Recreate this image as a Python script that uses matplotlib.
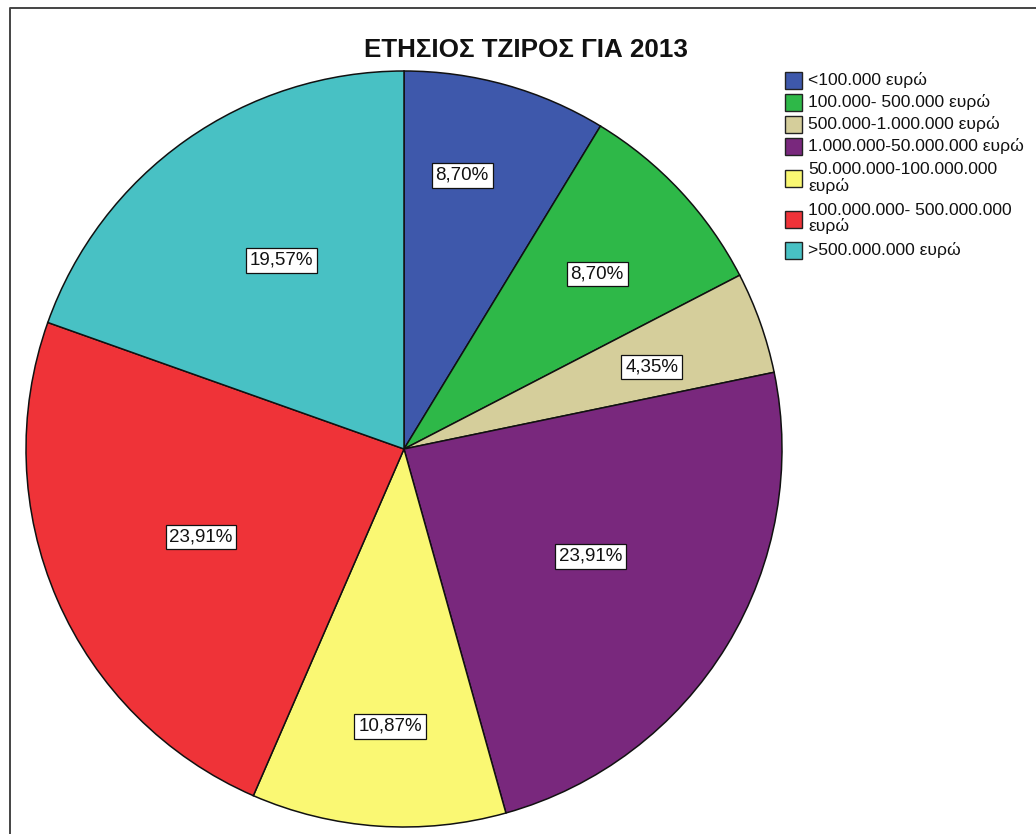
import matplotlib
matplotlib.use("Agg")
import matplotlib.pyplot as plt
from matplotlib.lines import Line2D
from matplotlib.patches import Rectangle
import numpy as np

plt.rcParams['font.family'] = ['Liberation Sans', 'DejaVu Sans']

# Turnover bands and their share of companies (%)
categories = [
    "<100.000 ευρώ",
    "100.000- 500.000 ευρώ",
    "500.000-1.000.000 ευρώ",
    "1.000.000-50.000.000 ευρώ",
    "50.000.000-100.000.000\nευρώ",
    "100.000.000- 500.000.000\nευρώ",
    ">500.000.000 ευρώ",
]
percentages = [8.70, 8.70, 4.35, 23.91, 10.87, 23.91, 19.57]
colors = ["#3E58AB", "#2EB848", "#D5CE9B", "#79287D", "#FAF873", "#EF3338", "#48C1C4"]
title = "ΕΤΗΣΙΟΣ ΤΖΙΡΟΣ ΓΙΑ 2013"

# Where each percentage box sits: polar angle (deg) and radius fraction
label_angles = [78.0, 42.2, 18.3, -29.9, -92.9, 203.4, 123.0]
label_radii = [0.74, 0.69, 0.69, 0.57, 0.735, 0.585, 0.595]

W, H = 1036, 834
fig = plt.figure(figsize=(W / 100, H / 100), dpi=100)
fig.patch.set_facecolor("white")

cx, cy, r = 404, 449, 378
ax = fig.add_axes([(cx - r) / W, (H - cy - r) / H, 2 * r / W, 2 * r / H])

wedges, _ = ax.pie(
    percentages,
    colors=colors,
    startangle=90,
    counterclock=False,
    radius=1.0,
    wedgeprops=dict(edgecolor="#111111", linewidth=1.1),
)
ax.set_xlim(-1, 1)
ax.set_ylim(-1, 1)
ax.set_aspect("equal")
ax.axis("off")

for p, a, rr in zip(percentages, label_angles, label_radii):
    t = np.deg2rad(a)
    ax.text(rr * np.cos(t), rr * np.sin(t), f"{p:.2f}%".replace(".", ","),
            ha="center", va="center", fontsize=13.5, color="#111111",
            bbox=dict(boxstyle="square,pad=0.2", facecolor="white",
                      edgecolor="#111111", linewidth=0.9))

fig.text(526 / W, 1 - 57 / H, title, ha="center", va="baseline",
         fontsize=18.7, fontweight="bold", color="#111111")

# Legend laid out row by row (pixel units from the top-left corner)
row_h_single, row_h_double = 22.0, 41.0
swatch, swatch_x, text_x = 17.0, 785.0, 808.0
y_center = 80.5
prev_h = None
for lab, col in zip(categories, colors):
    h = row_h_double if "\n" in lab else row_h_single
    if prev_h is not None:
        y_center += (prev_h + h) / 2
    prev_h = h
    fig.add_artist(Rectangle((swatch_x / W, 1 - (y_center + swatch / 2) / H),
                             swatch / W, swatch / H, transform=fig.transFigure,
                             facecolor=col, edgecolor="#222222", linewidth=1.0))
    fig.text(text_x / W, 1 - y_center / H, lab, ha="left", va="center",
             fontsize=12.6, linespacing=1.0, color="#111111")

# Outer frame along the top and left edges
fig.add_artist(Line2D([9.5 / W, 9.5 / W, 1.0], [0.0, 1 - 7.5 / H, 1 - 7.5 / H],
                      transform=fig.transFigure, color="#444444", linewidth=1.4))

fig.savefig("out.png", dpi=100, facecolor="white")
